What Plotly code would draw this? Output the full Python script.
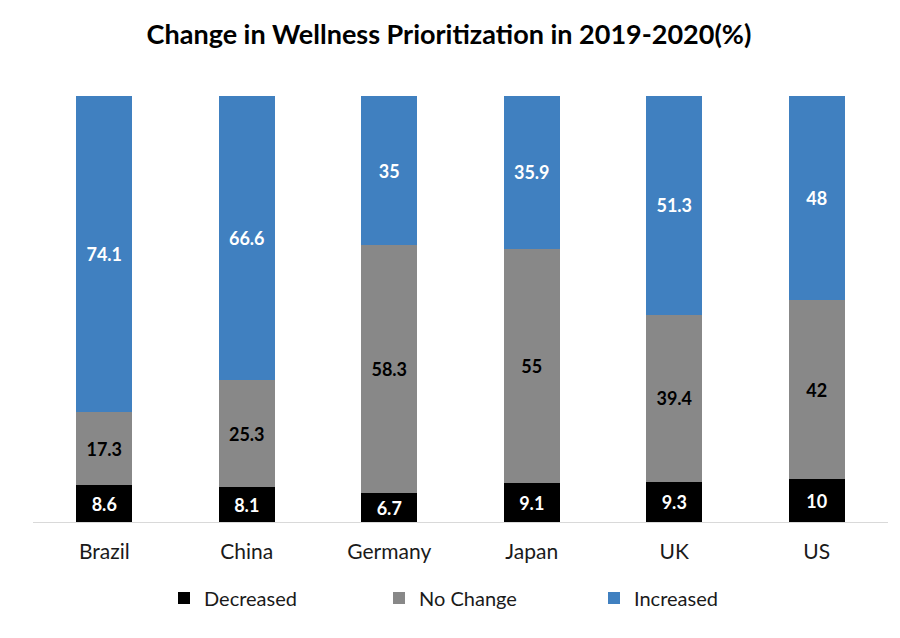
import plotly.graph_objects as go

countries = ["Brazil", "China", "Germany", "Japan", "UK", "US"]
decreased = [8.6, 8.1, 6.7, 9.1, 9.3, 10]
no_change = [17.3, 25.3, 58.3, 55, 39.4, 42]
increased = [74.1, 66.6, 35, 35.9, 51.3, 48]

FONT = "Lato"

def lbl(vals):
    return [("%g" % v) for v in vals]

fig = go.Figure()
fig.add_trace(go.Bar(
    name="Decreased", x=countries, y=decreased, text=lbl(decreased),
    marker=dict(color="#000000", line=dict(width=0)),
    textfont=dict(color="white", size=18, family=FONT, weight="bold"),
))
fig.add_trace(go.Bar(
    name="No Change", x=countries, y=no_change, text=lbl(no_change),
    marker=dict(color="#888888", line=dict(width=0)),
    textfont=dict(color="black", size=18, family=FONT, weight="bold"),
))
fig.add_trace(go.Bar(
    name="Increased", x=countries, y=increased, text=lbl(increased),
    marker=dict(color="#4080c0", line=dict(width=0)),
    textfont=dict(color="white", size=18, family=FONT, weight="bold"),
))
fig.update_traces(textposition="inside", insidetextanchor="middle",
                  textangle=0, constraintext="none", hoverinfo="skip")

fig.update_layout(
    width=900, height=638,
    barmode="stack", bargap=0.61,
    paper_bgcolor="white", plot_bgcolor="white",
    margin=dict(l=25, r=20, t=88, b=124),
    font=dict(family=FONT, color="black"),
    title=dict(text="<b>Change in Wellness Prioritization in 2019-2020(%)</b>",
               x=0.49, xanchor="center", y=1 - 27 / 638, yanchor="middle",
               font=dict(size=27, family=FONT, color="black")),
    xaxis=dict(showline=True, linecolor="#d9d9d9", linewidth=1,
               tickfont=dict(size=21, family=FONT, color="#1a1a1a"),
               ticks="outside", ticklen=11, tickcolor="rgba(0,0,0,0)",
               showgrid=False),
    yaxis=dict(range=[0, 100], visible=False, showgrid=False),
    legend=dict(orientation="h", x=0.5 + 26 / 855, xanchor="center",
                y=-(590 - 514) / 426, yanchor="middle",
                font=dict(size=20, family=FONT, color="#1a1a1a"),
                entrywidth=170, entrywidthmode="pixels", itemwidth=30,
                traceorder="normal"),
    showlegend=True,
)

fig.write_html("out.html")
